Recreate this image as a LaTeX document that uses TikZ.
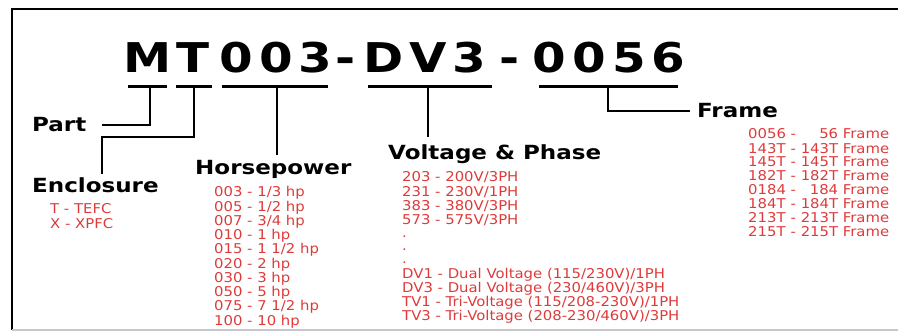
\documentclass[tikz,border=0pt]{standalone}
\usepackage{fontspec}
\usepackage{xcolor}
\usetikzlibrary{positioning,calc}
\setmainfont{DejaVu Sans}
\newfontfamily\titlefont[FakeStretch=1.18]{DejaVu Sans}
\newfontfamily\headfont[FakeStretch=1.18]{DejaVu Sans}
\newfontfamily\listfont[FakeStretch=1.1]{DejaVu Sans}
\definecolor{listred}{RGB}{222,58,58}
\definecolor{framegray}{RGB}{200,200,200}

\begin{document}
\begin{tikzpicture}[
    x=1pt, y=-1pt,
    code/.style={anchor=base, inner sep=0pt, font=\titlefont\bfseries\fontsize{41}{41}\selectfont},
    head/.style={anchor=base west, inner sep=0pt, font=\headfont\bfseries\fontsize{19.5}{21}\selectfont},
    list/.style={anchor=base west, inner sep=0pt, text=listred, font=\listfont\fontsize{13.5}{13.3}\selectfont},
    bar/.style={line width=3pt},
    link/.style={line width=1.2pt}
]
    \useasboundingbox (0,0) rectangle (898,331);

    % outer frame
    \draw[line width=2.4pt] (12,9) -- (898,9);
    \draw[line width=2pt] (12,8) -- (12,330);
    \draw[line width=1.5pt, framegray] (12,330) -- (898,330);

    % model number
    \foreach \ch/\xc [count=\i] in {M/148, T/192.5, 0/236, 0/276.5, 3/315, -/345.5, D/383.5, V/428.5, 3/469, -/510, 0/549, 0/589, 5/629, 6/668}
        \node[code] (ch\i) at (\xc,73) {\ch};

    \draw[bar] (128,87) -- (167,87);
    \draw[bar] (176,87) -- (212,87);
    \draw[bar] (222,87) -- (328,87);
    \draw[bar] (368,87) -- (492,87);
    \draw[bar] (539,87) -- (678,87);

    \coordinate (b1) at (150,87);
    \coordinate (b2) at (194,87);
    \coordinate (b3) at (277,87);
    \coordinate (b4) at (428,87);
    \coordinate (b5) at (608,87);
    \coordinate (e1) at (102,137);

    % headings
    \node[head] (part) at (32,132) {Part};
    \node[head] (encl) at (32,193) {Enclosure};
    \node[head] (hp) at (195,175) {Horsepower};
    \node[head] (volt) at (388,160) {Voltage \& Phase};
    \node[head] (frame) at (697,118) {Frame};

    \draw[link] (b1) |- ([xshift=15pt]part.east);
    \draw[link, shorten >=4pt] (b2) |- (e1) -- (e1 |- encl.north);
    \draw[link, shorten >=6pt] (b3) -- (b3 |- hp.north);
    \draw[link, shorten >=8pt] (b4) -- (b4 |- volt.north);
    \draw[link] (b5) |- ([xshift=-7pt]frame.west);

    % option lists
    \node[list] (encllist) at (50,214) {\begin{tabular}[t]{@{}l@{}}
        T - TEFC\\ X - XPFC\end{tabular}};
    \node[list] (hplist) at (214,197) {\begin{tabular}[t]{@{}l@{}}
        003 - 1/3 hp\\ 005 - 1/2 hp\\ 007 - 3/4 hp\\ 010 - 1 hp\\ 015 - 1 1/2 hp\\
        020 - 2 hp\\ 030 - 3 hp\\ 050 - 5 hp\\ 075 - 7 1/2 hp\\ 100 - 10 hp\end{tabular}};
    \node[list] (voltlist) at (402,182) {\begin{tabular}[t]{@{}l@{}}
        203 - 200V/3PH\\ 231 - 230V/1PH\\ 383 - 380V/3PH\\ 573 - 575V/3PH\\ .\\ .\\ .\\
        DV1 - Dual Voltage (115/230V)/1PH\\ DV3 - Dual Voltage (230/460V)/3PH\\
        TV1 - Tri-Voltage (115/208-230V)/1PH\\ TV3 - Tri-Voltage (208-230/460V)/3PH\end{tabular}};
    \node[list] (framelist) at (748,139) {\begin{tabular}[t]{@{}l@{\ -\ }r@{\ Frame}}
        0056 & 56\\ 143T & 143T\\ 145T & 145T\\ 182T & 182T\\
        0184 & 184\\ 184T & 184T\\ 213T & 213T\\ 215T & 215T\end{tabular}};
\end{tikzpicture}
\end{document}
